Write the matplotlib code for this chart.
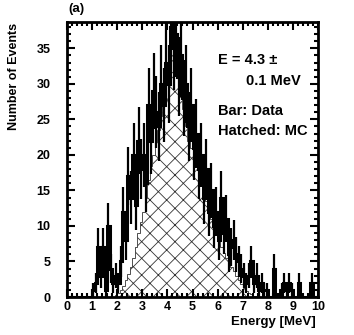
import numpy as np
import matplotlib
matplotlib.use("Agg")
import matplotlib.pyplot as plt

plt.rcParams['font.family'] = ['Liberation Sans', 'DejaVu Sans']
plt.rcParams['font.weight'] = 'bold'
plt.rcParams['hatch.linewidth'] = 0.6

# Bin edges (0.1 MeV bins from 0 to 10)
bin_edges = [round(0.1 * i, 1) for i in range(101)]

# Data counts per 0.1 MeV bin
data_counts = [
    0, 0, 0, 0, 0, 0, 0, 0, 0, 0,          # 0.0-1.0
    1, 2, 7, 3, 7, 1, 10, 4, 2, 3,         # 1.0-2.0
    2, 5, 12, 8, 17, 14, 20, 13, 22, 18,   # 2.0-3.0
    20, 16, 27, 22, 29, 26, 24, 30, 27, 33,  # 3.0-4.0
    30, 38, 35, 37, 31, 34, 28, 30, 24, 27,  # 4.0-5.0
    21, 23, 18, 20, 14, 18, 12, 15, 10, 12,  # 5.0-6.0
    8, 14, 9, 11, 6, 7, 8, 6, 5, 4,        # 6.0-7.0
    3, 2, 3, 5, 2, 3, 1, 2, 1, 1,          # 7.0-8.0
    0, 0, 4, 0, 0, 1, 2, 1, 2, 1,          # 8.0-9.0
    0, 0, 2, 0, 0, 0, 0, 2, 0, 0,          # 9.0-10.0
]

# MC (hatched) expectation per 0.1 MeV bin
mc_counts = [
    0, 0, 0, 0, 0, 0, 0, 0, 0, 0,
    0, 0, 0, 0, 0, 0, 0, 0, 0, 0.3,
    0.6, 1, 1.6, 2.4, 3.2, 4.2, 5.5, 7, 9, 10.5,
    12, 14, 16.5, 18.5, 20, 22, 23.5, 25.5, 27.5, 31,
    33, 36, 37.5, 34, 31, 29, 26.5, 24, 22, 21,
    20, 19, 18, 16.5, 15, 13.5, 12.5, 11, 10, 9,
    8, 7, 6.2, 5.5, 4.8, 4.2, 3.6, 3, 2.4, 1.8,
    1.3, 0.9, 0.6, 0.4, 0.2, 0.1, 0, 0, 0, 0,
    0, 0, 0, 0, 0, 0, 0, 0, 0, 0,
    0, 0, 0, 0, 0, 0, 0, 0, 0, 0,
]

x_ticks = [0, 1, 2, 3, 4, 5, 6, 7, 8, 9, 10]
y_ticks = [0, 5, 10, 15, 20, 25, 30, 35]

fig = plt.figure(figsize=(3.54, 3.35), dpi=100)
ax = fig.add_axes([67/354, 1 - 297/335, (318 - 67)/354, (297 - 22)/335])

edges = np.array(bin_edges)
counts = np.array(data_counts, dtype=float)
mc = np.array(mc_counts, dtype=float)
centers = 0.5 * (edges[:-1] + edges[1:])

ax.stairs(mc, edges, fill=True, facecolor='white', edgecolor='#333333',
          hatch='xx', linewidth=0.6, zorder=1)
ax.stairs(counts, edges, color='black', linewidth=2.2, zorder=3)
ax.errorbar(centers, counts, yerr=np.sqrt(counts), fmt='none',
            ecolor='black', elinewidth=1.6, zorder=3)

ax.set_xlim(0, 10)
ax.set_ylim(0, 38.7)
ax.set_xticks(x_ticks)
ax.set_yticks(y_ticks)
ax.set_xticklabels([str(v) for v in x_ticks], fontsize=9, fontweight='bold')
ax.set_yticklabels([str(v) for v in y_ticks], fontsize=9, fontweight='bold')
ax.xaxis.set_minor_locator(matplotlib.ticker.MultipleLocator(0.2))
ax.yaxis.set_minor_locator(matplotlib.ticker.MultipleLocator(1))
ax.tick_params(which='both', direction='in', top=True, right=True, width=1.5)
ax.tick_params(which='major', length=6)
ax.tick_params(axis='y', which='major', pad=12)
ax.tick_params(axis='x', which='major', pad=3)
ax.tick_params(which='minor', length=3)
for s in ax.spines.values():
    s.set_linewidth(2)

ax.text(0.6, 0.86, 'E = 4.3 \u00b1', transform=ax.transAxes, fontsize=10.5,
        fontweight='bold', ha='left', va='center')
ax.text(0.93, 0.785, '0.1 MeV', transform=ax.transAxes, fontsize=10.5,
        fontweight='bold', ha='right', va='center')
ax.text(0.6, 0.675, 'Bar: Data', transform=ax.transAxes, fontsize=10.5,
        fontweight='bold', ha='left', va='center')
ax.text(0.6, 0.605, 'Hatched: MC', transform=ax.transAxes, fontsize=10.5,
        fontweight='bold', ha='left', va='center')

fig.text(68/354, 1 - 9/335, '(a)', fontsize=9.5, fontweight='bold',
         ha='left', va='center')
fig.text(14/354, 1 - 76/335, 'Number of Events', fontsize=9, fontweight='bold',
         rotation=90, ha='center', va='center')
fig.text(316/354, 1 - 322/335, 'Energy [MeV]', fontsize=9.5, fontweight='bold',
         ha='right', va='center')

fig.savefig('out.png', dpi=100)
